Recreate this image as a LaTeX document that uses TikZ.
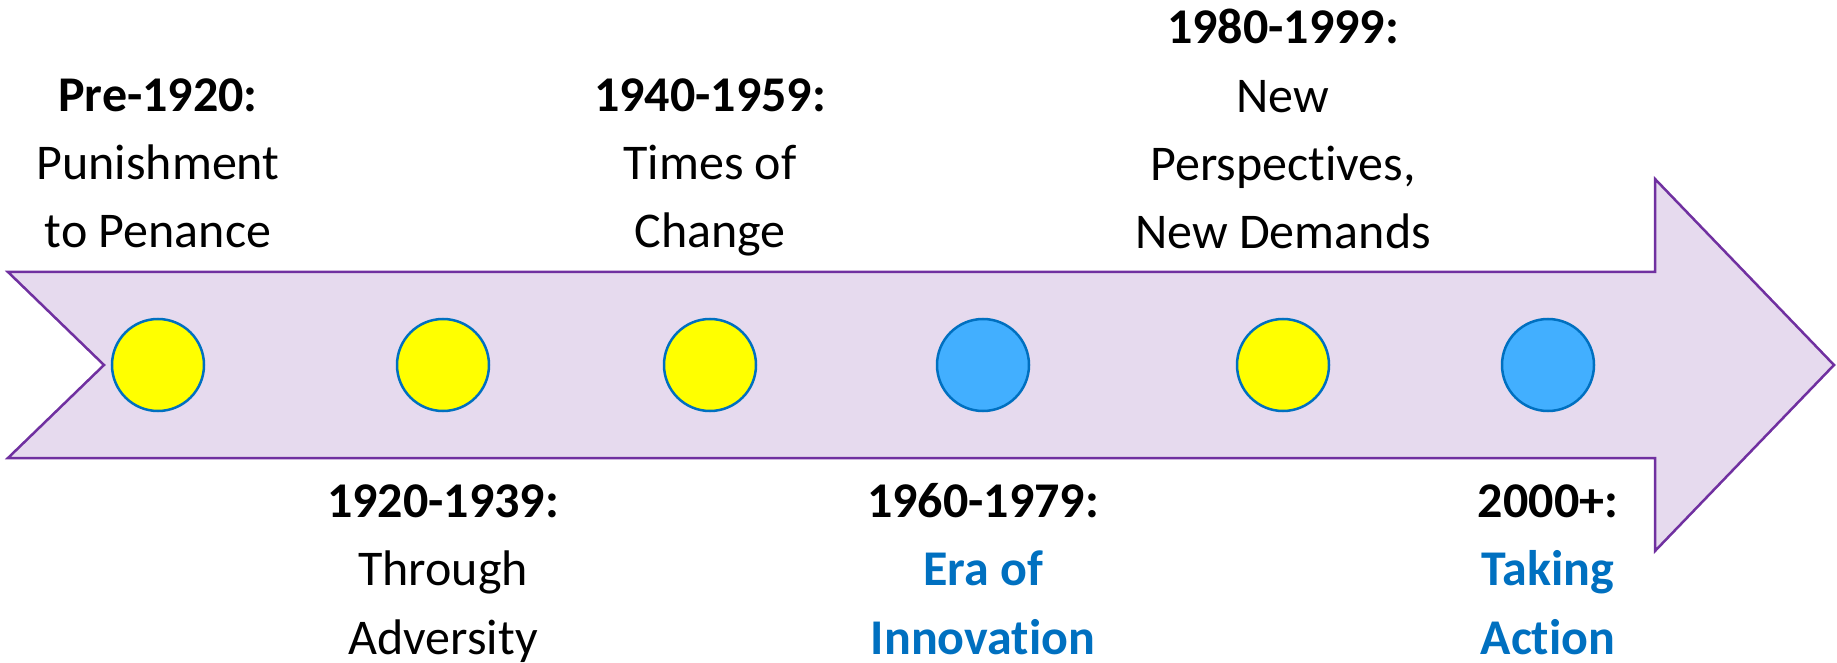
\documentclass[tikz,border=0pt]{standalone}
\usepackage{fontspec}
\setmainfont{Carlito}[Ligatures=NoCommon]
\definecolor{arrowfill}{HTML}{E6DAEE}
\definecolor{arrowline}{HTML}{7030A0}
\definecolor{ringblue}{HTML}{0070C0}
\definecolor{skyblue}{HTML}{42AFFF}
\definecolor{sunyellow}{HTML}{FFFF00}
\tikzset{
  stage/.style={circle, draw=ringblue, line width=1.25pt, minimum size=46pt, inner sep=0pt},
  era/.style={align=center, anchor=base, inner sep=0pt, font=\fontsize{25}{34.2}\selectfont},
}
\newcommand{\hilite}[1]{\textcolor{ringblue}{\textbf{#1}}}
\begin{document}
\begin{tikzpicture}[x=0.5pt,y=-0.5pt]
\useasboundingbox (0,0) rectangle (1837,663);
\coordinate(tl) at (8,272);
\coordinate(notch) at (104,365);
\coordinate(bl) at (8,458);
\coordinate(tr) at (1655,272);
\coordinate(headtop) at (1655,179);
\coordinate(tip) at (1834,365);
\coordinate(headbot) at (1655,551);
\coordinate(br) at (1655,458);
\filldraw [fill=arrowfill, draw=arrowline, line width=1.25pt]
  (tl) -- (tr) -- (headtop) -- (tip) -- (headbot) -- (br) -- (bl) -- (notch) -- cycle;
% stages along the arrow
\node[stage, fill=sunyellow] (s1) at (158,365) {};
\node[stage, fill=sunyellow] (s2) at (443,365) {};
\node[stage, fill=sunyellow] (s3) at (710,365) {};
\node[stage, fill=skyblue] (s4) at (983,365) {};
\node[stage, fill=sunyellow] (s5) at (1283,365) {};
\node[stage, fill=skyblue] (s6) at (1548,365) {};
% labels (anchored at the baseline of their last line)
\node[era] (pre) at (158,248) {\textbf{Pre-1920:}\\Punishment\\to Penance};
\node[era] (adversity) at (443,654) {\textbf{1920-1939:}\\Through\\Adversity};
\node[era] (change) at (710,248) {\textbf{1940-1959:}\\Times of\\Change};
\node[era] (innovation) at (983,654) {\textbf{1960-1979:}\\\hilite{Era of}\\\hilite{Innovation}};
\node[era] (perspectives) at (1283,249) {\textbf{1980-1999:}\\New\\Perspectives,\\New Demands};
\node[era] (action) at (1548,654) {\textbf{2000+:}\\\hilite{Taking}\\\hilite{Action}};
\end{tikzpicture}
\end{document}
